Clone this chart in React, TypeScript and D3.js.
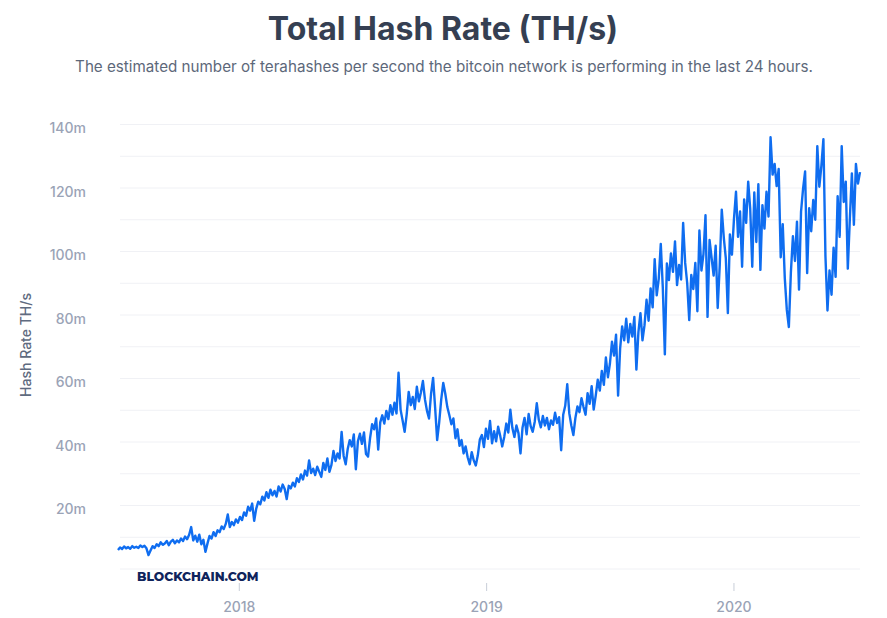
import { useEffect, useRef } from "react";
import * as d3 from "d3";

const WIDTH = 887;
const HEIGHT = 618;

const TITLE = "Total Hash Rate (TH/s)";
const SUBTITLE =
  "The estimated number of terahashes per second the bitcoin network is performing in the last 24 hours.";
const Y_LABEL = "Hash Rate TH/s";

// one reading every 3 days, starting 2017-07-06 (values in millions of TH/s)
const START_DATE = "2017-07-06";
const STEP_DAYS = 3;
const HASH_RATE = [
  6.0, 6.8, 6.3, 7.1, 6.5, 6.9, 6.4, 7.2, 6.7, 7.0,
  6.6, 7.4, 6.9, 7.3, 6.5, 4.4, 5.8, 7.2, 6.6, 7.8,
  7.2, 8.4, 7.6, 8.0, 8.8, 7.5, 8.6, 9.2, 8.1, 9.0,
  8.4, 9.6, 8.8, 10.2, 9.4, 10.8, 13.2, 9.0, 10.5, 8.6,
  10.8, 7.8, 9.2, 5.4, 8.0, 10.4, 9.6, 11.6, 10.4, 12.2,
  11.6, 13.4, 12.6, 14.2, 17.2, 13.2, 14.8, 13.8, 15.6, 14.6,
  16.4, 15.4, 17.8, 16.8, 19.6, 18.4, 20.6, 15.2, 19.0, 21.2,
  20.4, 22.8, 21.6, 24.2, 22.4, 25.0, 23.2, 24.6, 22.8, 26.0,
  24.4, 26.6, 25.2, 22.0, 26.2, 25.4, 27.2, 26.0, 28.6, 27.4,
  29.8, 28.2, 31.0, 29.4, 34.2, 30.2, 31.6, 29.6, 32.2, 30.6,
  29.0, 33.4, 31.2, 34.8, 30.6, 32.8, 37.2, 34.0, 36.4, 34.8,
  43.2, 35.6, 33.0, 37.8, 40.6, 38.6, 42.4, 31.4, 40.2, 42.6,
  39.4, 43.0, 36.2, 35.4, 41.2, 45.6, 44.0, 47.4, 37.6, 46.2,
  48.4, 45.8, 49.8, 47.2, 51.6, 48.6, 52.4, 49.0, 61.8, 50.2,
  46.8, 43.2, 48.6, 55.8, 51.6, 54.2, 50.4, 57.4, 52.8, 55.6,
  59.2, 53.4, 49.8, 47.4, 55.2, 60.2, 50.8, 40.6, 46.2, 53.4,
  58.6, 55.2, 51.0, 48.4, 45.6, 47.4, 41.2, 44.0, 38.8, 40.6,
  36.4, 38.6, 35.2, 33.0, 36.8, 34.2, 32.6, 35.8, 40.8, 42.2,
  38.4, 44.2, 41.0, 46.6, 39.6, 43.4, 40.2, 44.8, 42.0, 38.6,
  41.6, 45.8, 43.0, 50.2, 44.4, 41.6, 45.2, 42.8, 36.4, 44.6,
  47.6, 42.4, 48.8, 45.0, 43.2, 46.4, 52.2, 47.0, 44.6, 48.2,
  45.2, 47.6, 44.0, 46.8, 45.4, 49.2, 46.0, 47.8, 37.4, 48.6,
  51.4, 58.2, 49.0, 45.2, 42.2, 47.6, 51.2, 49.4, 53.8, 51.0,
  48.6, 55.4, 52.0, 57.6, 50.2, 54.6, 59.6, 56.2, 62.4, 58.0,
  66.6, 60.4, 64.8, 71.6, 67.2, 73.8, 54.6, 69.4, 76.4, 72.0,
  78.8, 71.4, 77.2, 73.2, 79.4, 62.8, 74.6, 80.6, 72.0, 76.8,
  84.8, 78.2, 88.4, 82.4, 97.6, 86.2, 91.4, 102.4, 88.6, 67.6,
  96.2, 91.0, 99.4, 93.6, 103.2, 89.4, 95.8, 91.2, 109.0, 96.4,
  90.0, 78.4, 92.6, 88.2, 96.4, 81.2, 106.6, 94.0, 99.2, 111.4,
  79.4, 103.6, 98.0, 92.4, 101.8, 82.2, 95.6, 113.2, 104.4, 97.8,
  80.6, 105.4, 99.0, 110.2, 118.8, 104.6, 112.6, 95.2, 116.4, 109.0,
  122.0, 113.4, 95.2, 118.6, 103.0, 121.2, 94.2, 114.6, 107.2, 118.8,
  111.0, 136.0, 124.2, 127.6, 120.6, 126.0, 98.2, 108.6, 91.6, 81.6,
  76.2, 93.4, 104.8, 97.0, 109.4, 88.0, 112.6, 119.8, 125.2, 93.2,
  113.6, 106.4, 116.2, 110.0, 133.2, 120.4, 127.0, 135.4, 98.6, 81.4,
  94.0, 86.4, 101.2, 92.0, 117.4, 104.6, 133.2, 115.6, 122.0, 94.6,
  110.2, 124.6, 108.4, 127.6, 121.4, 125.0,
];

const Y_GRID = [0, 10, 20, 30, 40, 50, 60, 70, 80, 90, 100, 110, 120, 130, 140];
const Y_TICKS = [20, 40, 60, 80, 100, 120, 140];

const FONT = "Inter, 'Noto Sans', sans-serif";

export default function App() {
  const ref = useRef<SVGSVGElement | null>(null);

  useEffect(() => {
    if (!ref.current) return;
    const svg = d3.select(ref.current);
    svg.selectAll("*").remove();

    const start = new Date(START_DATE + "T00:00:00Z");
    const points = HASH_RATE.map((v, i) => ({
      date: d3.utcDay.offset(start, i * STEP_DAYS),
      value: v,
    }));

    const x = d3
      .scaleUtc()
      .domain(d3.extent(points, (d) => d.date) as [Date, Date])
      .range([118, 860]);
    const y = d3.scaleLinear().domain([0, 140]).range([569, 124.5]);

    // titles
    svg
      .append("text")
      .attr("x", 443)
      .attr("y", 40)
      .attr("text-anchor", "middle")
      .attr("font-family", FONT)
      .attr("font-weight", 700)
      .attr("font-size", "32px")
      .attr("fill", "#353f52")
      .text(TITLE);

    svg
      .append("text")
      .attr("x", 444)
      .attr("y", 72)
      .attr("text-anchor", "middle")
      .attr("font-family", FONT)
      .attr("font-size", "15.2px")
      .attr("fill", "#5d687a")
      .text(SUBTITLE);

    // grid
    svg
      .append("g")
      .selectAll("line")
      .data(Y_GRID)
      .enter()
      .append("line")
      .attr("x1", 120)
      .attr("x2", 860)
      .attr("y1", (d) => y(d))
      .attr("y2", (d) => y(d))
      .attr("stroke", "#f0f1f5")
      .attr("stroke-width", 1);

    // y tick labels
    svg
      .append("g")
      .selectAll("text")
      .data(Y_TICKS)
      .enter()
      .append("text")
      .attr("x", 86)
      .attr("y", (d) => y(d) + 4)
      .attr("dy", "0.35em")
      .attr("text-anchor", "end")
      .attr("font-family", FONT)
      .attr("font-weight", 500)
      .attr("font-size", "14px")
      .attr("fill", "#9aa3b6")
      .text((d) => `${d}m`);

    svg
      .append("text")
      .attr("transform", "translate(31, 345) rotate(-90)")
      .attr("text-anchor", "middle")
      .attr("font-family", FONT)
      .attr("font-weight", 500)
      .attr("font-size", "14px")
      .attr("fill", "#5f6b80")
      .text(Y_LABEL);

    // x axis
    const years = x.ticks(d3.utcYear.every(1)!);
    const xg = svg.append("g");
    xg.selectAll("line")
      .data(years)
      .enter()
      .append("line")
      .attr("x1", (d) => x(d))
      .attr("x2", (d) => x(d))
      .attr("y1", 583)
      .attr("y2", 591)
      .attr("stroke", "#c9ced8")
      .attr("stroke-width", 1);
    xg.selectAll("text")
      .data(years)
      .enter()
      .append("text")
      .attr("x", (d) => x(d))
      .attr("y", 612)
      .attr("text-anchor", "middle")
      .attr("font-family", FONT)
      .attr("font-weight", 500)
      .attr("font-size", "14px")
      .attr("fill", "#9aa3b6")
      .text((d) => d3.utcFormat("%Y")(d));

    // line
    const line = d3
      .line<{ date: Date; value: number }>()
      .x((d) => x(d.date))
      .y((d) => y(d.value));

    svg
      .append("path")
      .datum(points)
      .attr("d", line)
      .attr("fill", "none")
      .attr("stroke", "#0f6df0")
      .attr("stroke-width", 2.4)
      .attr("stroke-linejoin", "round");

    // watermark
    svg
      .append("text")
      .attr("x", 137)
      .attr("y", 580.5)
      .attr("font-family", "Montserrat, 'Open Sans', sans-serif")
      .attr("font-weight", 800)
      .attr("font-size", "12.3px")
      .attr("fill", "#10245c")
      .text("BLOCKCHAIN.COM");
  }, []);

  return (
    <div style={{ position: "absolute", left: 0, top: 0, width: WIDTH, height: HEIGHT, background: "#fff" }}>
      <svg ref={ref} width={WIDTH} height={HEIGHT} />
    </div>
  );
}
